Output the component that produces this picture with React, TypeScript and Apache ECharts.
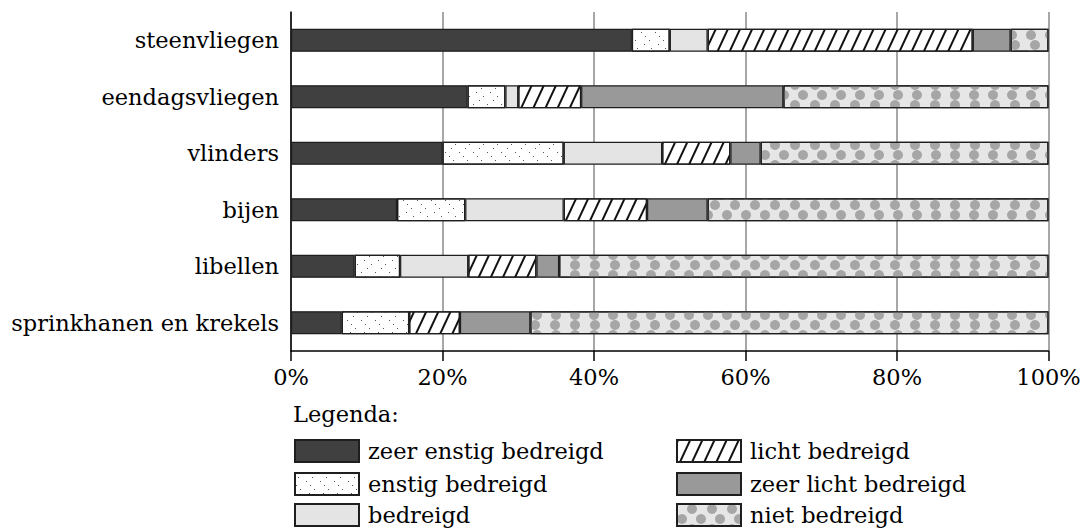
import React, { useEffect, useRef } from "react";
import * as echarts from "echarts";

const categories = ["steenvliegen", "eendagsvliegen", "vlinders", "bijen", "libellen", "sprinkhanen en krekels"];
const seriesNames = ["zeer enstig bedreigd", "enstig bedreigd", "bedreigd", "licht bedreigd", "zeer licht bedreigd", "niet bedreigd"];
const zeerErnstig = [45, 23.3, 20, 14, 8.4, 6.7];
const ernstig = [5, 5, 16, 9, 6, 8.9];
const bedreigd = [5, 1.7, 13, 13, 9, 0];
const lichtBedreigd = [35, 8.3, 9, 11, 9, 6.7];
const zeerLicht = [5, 26.7, 4, 8, 3, 9.3];
const nietBedreigd = [5, 35, 38, 45, 64.6, 68.4];
const xTicks = [0, 20, 40, 60, 80, 100];

const FONT = "DejaVu Serif";
const FS = 22.5;
const BORDER = "#1e1e1e";

const styles: any[] = [
  { color: "#404040" },
  {
    color: "#ffffff",
    decal: {
      symbol: "rect",
      symbolSize: 1,
      color: "#555555",
      dashArrayX: [[1, 13], [0, 7, 1, 6], [0, 3, 1, 10], [0, 11, 1, 2], [0, 1, 1, 12], [0, 5, 1, 8]],
      dashArrayY: [1, 3],
    },
  },
  { color: "#e4e4e4" },
  {
    color: "#ffffff",
    decal: {
      symbol: "rect",
      symbolSize: 1,
      color: "#111111",
      dashArrayX: [1, 0],
      dashArrayY: [1.2, 8.8],
      rotation: -65 * Math.PI / 180,
    },
  },
  { color: "#999999" },
  {
    color: "#e6e6e6",
    decal: {
      symbol: "circle",
      symbolSize: 1,
      color: "#a6a6a6",
      dashArrayX: [[10, 9], [0, 10, 10, 0]],
      dashArrayY: [10, 0],
    },
  },
];

const values = [zeerErnstig, ernstig, bedreigd, lichtBedreigd, zeerLicht, nietBedreigd];

const legendLeft = [294, 294, 294, 676, 676, 676];
const legendTop = [439, 472, 503, 439, 472, 503];

export default function App() {
  const ref = useRef<HTMLDivElement>(null);
  useEffect(() => {
    if (!ref.current) return;
    const chart = echarts.init(ref.current, null, { renderer: "svg" });
    const series = seriesNames.map((name, i) => ({
      name,
      type: "bar",
      stack: "total",
      barWidth: 23,
      data: values[i],
      itemStyle: { ...styles[i], borderColor: BORDER, borderWidth: 1.2 },
      emphasis: { disabled: true },
    }));
    const legends = seriesNames.map((name, i) => ({
      orient: "horizontal",
      icon: "rect",
      itemWidth: 64,
      itemHeight: 22,
      padding: 0,
      selectedMode: false,
      left: legendLeft[i],
      top: legendTop[i],
      data: [name],
      textStyle: { fontFamily: FONT, fontSize: FS, color: "#000", padding: [0, 0, 0, 4] },
    }));
    chart.setOption({
      animation: false,
      backgroundColor: "#ffffff",
      textStyle: { fontFamily: FONT },
      title: {
        text: "Legenda:",
        left: 293,
        top: 402,
        padding: 0,
        textStyle: { fontFamily: FONT, fontSize: FS, fontWeight: "normal", color: "#000" },
      },
      legend: legends,
      grid: { left: 291, right: 41.5, top: 12, bottom: 177, containLabel: false },
      xAxis: {
        type: "value",
        min: xTicks[0],
        max: xTicks[xTicks.length - 1],
        interval: 20,
        axisLine: { show: true, lineStyle: { color: "#000", width: 1.5 } },
        axisTick: { show: true, length: 10, lineStyle: { color: "#000", width: 1.5 } },
        axisLabel: { formatter: "{value}%", fontFamily: FONT, fontSize: FS, color: "#000", margin: 14 },
        splitLine: { show: true, lineStyle: { color: "#8a8a8a", width: 1.5 } },
      },
      yAxis: {
        type: "category",
        inverse: true,
        data: categories,
        axisLine: { show: true, lineStyle: { color: "#000", width: 1.5 } },
        axisTick: { show: false },
        axisLabel: { fontFamily: FONT, fontSize: FS, color: "#000", margin: 12 },
      },
      series,
    });
    return () => chart.dispose();
  }, []);
  return <div ref={ref} style={{ position: "fixed", left: 0, top: 0, width: 1090, height: 528 }} />;
}
